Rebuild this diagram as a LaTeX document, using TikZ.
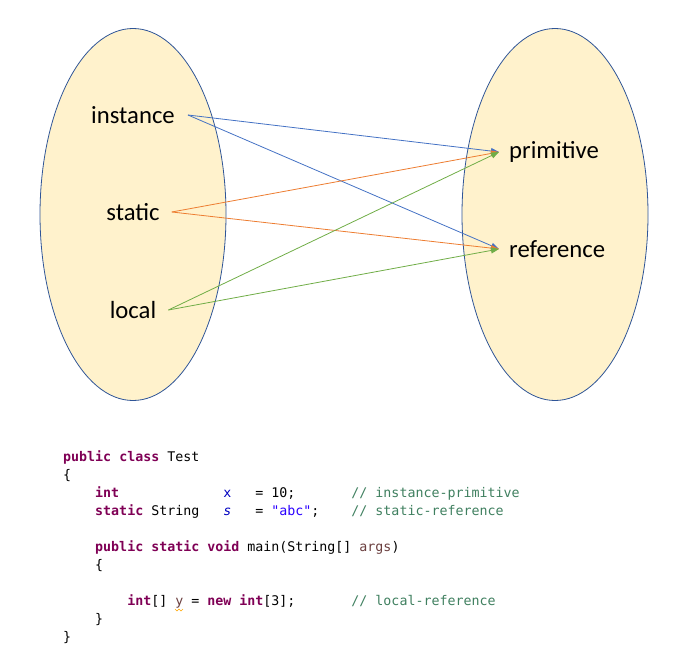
\documentclass[tikz,border=0pt]{standalone}
\usepackage{fontspec}
\usetikzlibrary{arrows.meta}
\newfontfamily\lblfont{Carlito}
\newfontfamily\codefont{DejaVu Sans Mono}
\definecolor{ellfill}{HTML}{FFF2CC}
\definecolor{elldraw}{HTML}{2F5597}
\definecolor{ablue}{HTML}{4472C4}
\definecolor{aorange}{HTML}{ED7D31}
\definecolor{agreen}{HTML}{70AD47}
\definecolor{kw}{HTML}{7F0055}
\definecolor{fld}{HTML}{0000C0}
\definecolor{strc}{HTML}{2A00FF}
\definecolor{cmt}{HTML}{3F7F5F}
\definecolor{argc}{HTML}{6A3E3E}
\newlength\cw
\newcommand{\K}[1]{\textcolor{kw}{\bfseries #1}}
\newcommand{\Sp}[1]{\hspace*{#1\cw}}
\tikzset{
  set/.style={draw=elldraw, line width=0.8pt, fill=ellfill},
  lbl/.style={font=\lblfont\fontsize{24.7}{28}\selectfont, inner sep=0pt},
  code/.style={font=\codefont\fontsize{13.3}{18}\selectfont, anchor=base west, inner sep=0pt},
  arr/.style={line width=0.8pt, -{Triangle[length=8pt,width=6pt]}}
}
\begin{document}
\settowidth\cw{\codefont\fontsize{13.3}{18}\selectfont x}
\begin{tikzpicture}[x=1pt,y=-1pt]
\useasboundingbox (0,0) rectangle (674,655);
\draw[set] (133,214.5) ellipse [x radius=93, y radius=186];
\draw[set] (555,214.5) ellipse [x radius=93, y radius=186];

\node[lbl] (inst) at (133,115) {instance};
\node[lbl] (stat) at (133,212) {static};
\node[lbl] (loc) at (133,310) {local};
\node[lbl, anchor=west] (prim) at (509,152) {primitive};
\node[lbl, anchor=west] (ref) at (509,249) {reference};

\coordinate (iS) at ([xshift=13pt]inst.east);
\coordinate (sS) at ([xshift=12pt]stat.east);
\coordinate (lS) at ([xshift=12pt]loc.east);
\coordinate (pE) at ([xshift=-10pt]prim.west);
\coordinate (rE) at ([xshift=-10pt]ref.west);

\draw[arr, ablue] (iS) -- (pE);
\draw[arr, ablue] (iS) -- (rE);
\draw[arr, aorange] (sS) -- (pE);
\draw[arr, aorange] (sS) -- (rE);
\draw[arr, agreen] (lS) -- (pE);
\draw[arr, agreen] (lS) -- (rE);

\node[code] (c1) at (63,461) {\K{public}\Sp{1}\K{class}\Sp{1}Test};
\node[code] (c2) at (63,479) {\{};
\node[code] (c3) at (63,497) {\Sp{4}\K{int}\Sp{13}\textcolor{fld}{x}\Sp{3}=\Sp{1}10;\Sp{7}\textcolor{cmt}{//\Sp{1}instance-primitive}};
\node[code] (c4) at (63,515) {\Sp{4}\K{static}\Sp{1}String\Sp{3}\textcolor{fld}{\itshape s}\Sp{3}=\Sp{1}\textcolor{strc}{"abc"};\Sp{4}\textcolor{cmt}{//\Sp{1}static-reference}};
\node[code] (c5) at (63,551) {\Sp{4}\K{public}\Sp{1}\K{static}\Sp{1}\K{void}\Sp{1}main(String[]\Sp{1}\textcolor{argc}{args})};
\node[code] (c6) at (63,569) {\Sp{4}\{};
\node[code] (c7) at (63,605) {\Sp{8}\K{int}[]\Sp{1}\textcolor{argc}{y}\Sp{1}=\Sp{1}\K{new}\Sp{1}\K{int}[3];\Sp{7}\textcolor{cmt}{//\Sp{1}local-reference}};
\node[code] (c8) at (63,623) {\Sp{4}\}};
\node[code] (c9) at (63,641) {\}};
\draw[color=orange!70!yellow, line width=0.5pt] ([xshift=112pt,yshift=-4pt]c7.base west) -- ++(2,2) -- ++(2,-2) -- ++(2,2) -- ++(2,-2);
\end{tikzpicture}
\end{document}
